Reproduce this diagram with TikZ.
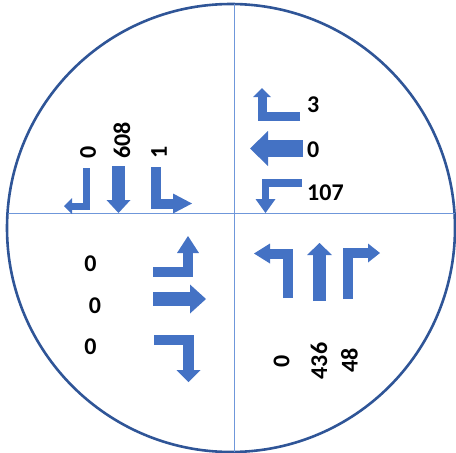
\documentclass[tikz,border=0pt]{standalone}
\usepackage{fontspec}
\setmainfont{Carlito}
\usetikzlibrary{arrows.meta}
\definecolor{ringblue}{HTML}{2F5597}
\definecolor{axisblue}{HTML}{6F97DA}
\definecolor{mvblue}{HTML}{4472C4}
\newcommand{\cnt}{\fontsize{24}{28}\selectfont\bfseries}

\begin{document}
\begin{tikzpicture}[x=1pt, y=-1pt,
    ring/.style={draw=ringblue, line width=2.6pt},
    axis/.style={draw=axisblue, line width=1pt},
    mv/.style n args={3}{draw=mvblue, line width=#1, line join=miter,
      -{Triangle[width=#2, length=#3, line width=0pt]}},
    num/.style={font=\cnt, inner sep=0pt}]
  \useasboundingbox (0,0) rectangle (456,453);
  % intersection
  \draw[ring] (231,228) circle[radius=224pt];
  \draw[axis] (234,4) -- (234,452);
  \draw[axis] (7.5,213) -- (454.5,213);
  % southbound (top left)
  \draw[mv={7pt}{16pt}{8pt}] (86,168) -- (86,206) -- (64,206);
  \draw[mv={13pt}{24pt}{13pt}] (118.5,166) -- (118.5,213);
  \draw[mv={10pt}{20pt}{19pt}] (156,167) -- (156,203.5) -- (192,203.5);
  \node[num, rotate=90, anchor=west] (s1) at (88,159) {0};
  \node[num, rotate=90, anchor=west] (s2) at (122,159) {608};
  \node[num, rotate=90, anchor=west] (s3) at (159,159) {1};
  % westbound (top right)
  \draw[mv={9pt}{18pt}{9pt}] (300,116.5) -- (262,116.5) -- (262,88);
  \draw[mv={17pt}{35pt}{18pt}] (303,148.5) -- (250,148.5);
  \draw[mv={7.5pt}{20pt}{14pt}] (302,183) -- (265.5,183) -- (265.5,213);
  \node[num, anchor=west] (w1) at (307,105) {3};
  \node[num, anchor=west] (w2) at (307,149.5) {0};
  \node[num, anchor=west] (w3) at (307,192.5) {107};
  % eastbound (bottom left)
  \draw[mv={10pt}{22pt}{17pt}] (153,271.5) -- (188,271.5) -- (188,236);
  \draw[mv={14pt}{29pt}{16pt}] (153,299) -- (206,299);
  \draw[mv={10.5pt}{24pt}{12pt}] (154,340) -- (188.5,340) -- (188.5,382);
  \node[num] (e1) at (90.5,264) {0};
  \node[num] (e2) at (95,306) {0};
  \node[num] (e3) at (90.5,347) {0};
  % northbound (bottom right)
  \draw[mv={10pt}{20pt}{16pt}] (288,298) -- (288,253.5) -- (254,253.5);
  \draw[mv={13pt}{25pt}{12pt}] (319.5,301) -- (319.5,243);
  \draw[mv={10pt}{19pt}{12pt}] (347.5,299) -- (347.5,253) -- (380,253);
  \node[num, rotate=90] (n1) at (281.5,361) {0};
  \node[num, rotate=90] (n2) at (319,361) {436};
  \node[num, rotate=90] (n3) at (349.5,360.5) {48};
\end{tikzpicture}
\end{document}
